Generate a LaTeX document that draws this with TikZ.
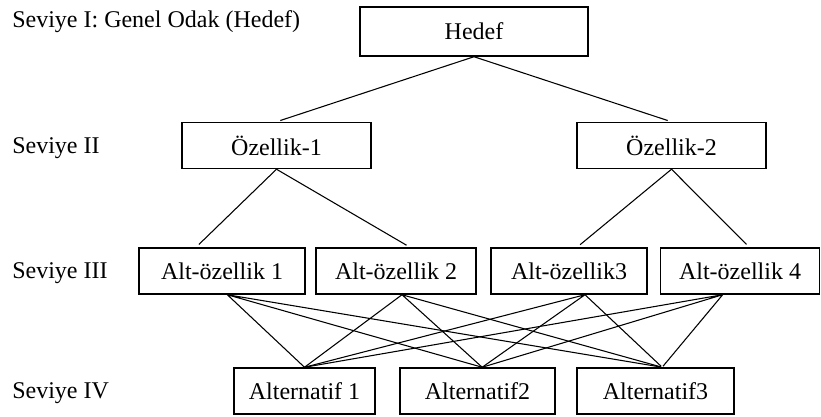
\documentclass[tikz,border=0pt]{standalone}
\usepackage{fontspec}
\setmainfont{Liberation Serif}
\usepackage{tikz}

\tikzset{
  kutu/.style={draw,line width=1.1pt,inner sep=0pt,minimum height=34.5pt,font=\fontsize{18}{20}\selectfont},
  seviye/.style={anchor=west,inner sep=0pt,font=\fontsize{18}{20}\selectfont},
  bag/.style={line width=0.8pt}
}

\begin{document}
\begin{tikzpicture}[x=0.75pt,y=-0.75pt]
\useasboundingbox (0,0) rectangle (821,417);
% seviye etiketleri
\node[seviye] (sev1) at (12,22) {Seviye I: Genel Odak (Hedef)};
\node[seviye] (sev2) at (12,148) {Seviye II};
\node[seviye] (sev3) at (12,273) {Seviye III};
\node[seviye] (sev4) at (12,393) {Seviye IV};
% kutular
\node[kutu,minimum width=171pt,minimum height=36.75pt] (hedef) at (474,31.5) {Hedef};
\node[kutu,minimum width=141.75pt] (ozl1) at (276.5,145.5) {Özellik-1};
\node[kutu,minimum width=141.75pt] (ozl2) at (671.5,145.5) {Özellik-2};
\node[kutu,minimum width=124.5pt] (alt1) at (222,271) {Alt-özellik 1};
\node[kutu,minimum width=120pt] (alt2) at (396,271) {Alt-özellik 2};
\node[kutu,minimum width=117pt] (alt3) at (569,271) {Alt-özellik3};
\node[kutu,minimum width=119.25pt] (alt4) at (740,271) {Alt-özellik 4};
\node[kutu,minimum width=105.75pt] (alter1) at (304.5,391) {Alternatif 1};
\node[kutu,minimum width=116.25pt] (alter2) at (477.5,391) {Alternatif2};
\node[kutu,minimum width=117.75pt] (alter3) at (655.5,391) {Alternatif3};
% baglar
\draw[bag,shorten >=3pt] (hedef.south) -- (ozl1.north);
\draw[bag,shorten >=3pt] (hedef.south) -- (ozl2.north);
\draw[bag,shorten >=3pt] (ozl1.south) -- ([xshift=-19.5pt]alt1.north);
\draw[bag,shorten >=3pt] (ozl1.south) -- ([xshift=10.5pt]alt2.north);
\draw[bag,shorten >=3pt] (ozl2.south) -- ([xshift=6pt]alt3.north);
\draw[bag,shorten >=3pt] (ozl2.south) -- ([xshift=7pt]alt4.north);
\draw[bag,shorten >=1pt] ([xshift=4pt]alt1.south) -- (alter1.north)
  ([xshift=4pt]alt1.south) -- ([xshift=3.5pt]alter2.north)
  ([xshift=4pt]alt1.south) -- ([xshift=5pt]alter3.north);
\draw[bag,shorten >=1pt] ([xshift=4.5pt]alt2.south) -- (alter1.north)
  ([xshift=4.5pt]alt2.south) -- ([xshift=3.5pt]alter2.north)
  ([xshift=4.5pt]alt2.south) -- ([xshift=5pt]alter3.north);
\draw[bag,shorten >=1pt] ([xshift=12pt]alt3.south) -- (alter1.north)
  ([xshift=12pt]alt3.south) -- ([xshift=3.5pt]alter2.north)
  ([xshift=12pt]alt3.south) -- ([xshift=5pt]alter3.north);
\draw[bag,shorten >=1pt] ([xshift=-13pt]alt4.south) -- (alter1.north)
  ([xshift=-13pt]alt4.south) -- ([xshift=3.5pt]alter2.north)
  ([xshift=-13pt]alt4.south) -- ([xshift=5pt]alter3.north);
\end{tikzpicture}
\end{document}
